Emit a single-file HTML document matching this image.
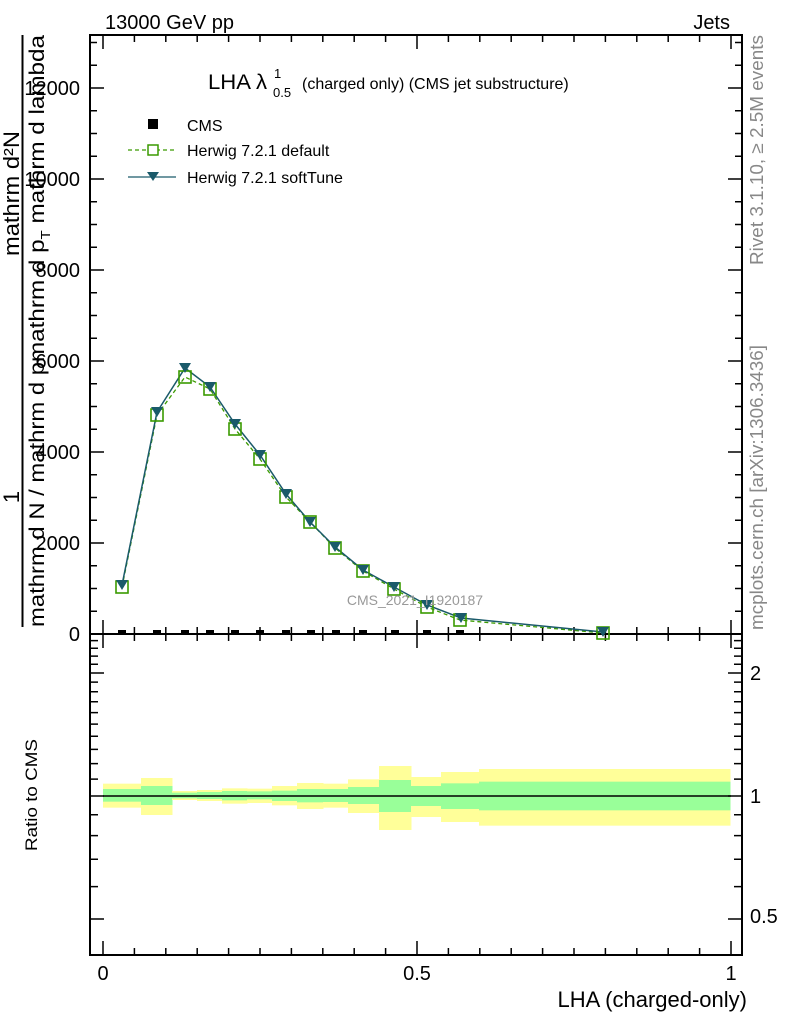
<!DOCTYPE html>
<html><head><meta charset="utf-8"><style>
html,body{margin:0;padding:0;background:#fff;}
svg{display:block;font-family:"Liberation Sans",sans-serif;}
</style></head><body>
<svg id="s" width="786" height="1024" viewBox="0 0 786 1024" xmlns="http://www.w3.org/2000/svg">
<g id="bands"></g>
<g id="ticks" stroke="#000" stroke-width="1.5"></g>
<g stroke="#000" stroke-width="1.5">
<path d="M90 919H104M742 919H728M90 796H104M742 796H728M90 673H104M742 673H728"/>
<path d="M90 886.6H98M90 859.3H98M90 835.6H98M90 814.7H98M90 779.1H98M90 763.6H98M90 749.4H98M90 736.3H98M90 724.1H98M90 712.6H98M90 701.8H98M90 691.7H98M90 682.1H98M90 664.3H98M90 656.1H98M90 648.2H98M90 640.6H98"/>
<path d="M742 886.6H734M742 859.3H734M742 835.6H734M742 814.7H734M742 779.1H734M742 763.6H734M742 749.4H734M742 736.3H734M742 724.1H734M742 712.6H734M742 701.8H734M742 691.7H734M742 682.1H734M742 664.3H734M742 656.1H734M742 648.2H734M742 640.6H734"/>
</g>
<rect x="90" y="35" width="652" height="599" fill="none" stroke="#000" stroke-width="2"/>
<rect x="90" y="634" width="652" height="321" fill="none" stroke="#000" stroke-width="2"/>
<line x1="103" y1="796" x2="731" y2="796" stroke="#000" stroke-width="1.5"/>
<g id="data"></g>
<text x="105" y="29" font-size="20">13000 GeV pp</text>
<text x="730" y="29" font-size="20" text-anchor="end">Jets</text>
<text x="208" y="89" font-size="21" textLength="59" lengthAdjust="spacingAndGlyphs">LHA λ</text>
<text x="274" y="78" font-size="13">1</text>
<text x="273" y="97" font-size="13">0.5</text>
<text x="302" y="89" font-size="16">(charged only) (CMS jet substructure)</text>
<rect x="148" y="119" width="10" height="10" fill="#000"/>
<text x="187" y="131" font-size="16">CMS</text>
<line x1="128" y1="150" x2="176" y2="150" stroke="#3a9a00" stroke-width="1.3" stroke-dasharray="4,3"/>
<rect x="148" y="145" width="10" height="10" fill="#fff" stroke="#3a9a00" stroke-width="1.5"/>
<text x="187" y="156" font-size="16">Herwig 7.2.1 default</text>
<line x1="128" y1="177" x2="176" y2="177" stroke="#1a5a6a" stroke-width="1.3"/>
<polygon points="147,172 159,172 153,181" fill="#1a5a6a"/>
<text x="187" y="183" font-size="16">Herwig 7.2.1 softTune</text>
<text x="415" y="605" font-size="14" fill="#999" text-anchor="middle">CMS_2021_I1920187</text>
<g font-size="20" text-anchor="end" id="ylab"></g>
<text x="103" y="980" font-size="20" text-anchor="middle">0</text>
<text x="417" y="980" font-size="20" text-anchor="middle">0.5</text>
<text x="731" y="980" font-size="20" text-anchor="middle">1</text>
<text x="747" y="1007" font-size="22" text-anchor="end">LHA (charged-only)</text>
<text x="750" y="680" font-size="20">2</text>
<text x="750" y="803" font-size="20">1</text>
<text x="750" y="923" font-size="20">0.5</text>
<text transform="translate(37,851) rotate(-90)" font-size="17" textLength="112" lengthAdjust="spacingAndGlyphs">Ratio to CMS</text>
<text transform="translate(763,265) rotate(-90)" font-size="18.5" fill="#888" textLength="230" lengthAdjust="spacingAndGlyphs">Rivet 3.1.10, ≥ 2.5M events</text>
<text transform="translate(763,630) rotate(-90)" font-size="18.5" fill="#888" textLength="285" lengthAdjust="spacingAndGlyphs">mcplots.cern.ch [arXiv:1306.3436]</text>
<text transform="translate(19,497) rotate(-90)" font-size="22" text-anchor="middle">1</text>
<text transform="translate(19,256) rotate(-90)" font-size="22" textLength="125" lengthAdjust="spacingAndGlyphs">mathrm d²N</text>
<line x1="22.5" y1="35" x2="22.5" y2="627" stroke="#000" stroke-width="2"/>
<text transform="translate(44,627) rotate(-90)" font-size="21" textLength="265" lengthAdjust="spacingAndGlyphs">mathrm d N / mathrm d p</text>
<text transform="translate(44,362) rotate(-90)" font-size="21" textLength="327" lengthAdjust="spacingAndGlyphs">mathrm d p<tspan font-size="13" dy="6">T</tspan><tspan dy="-6"> mathrm d lambda</tspan></text>
</svg>
<script>
const NS="http://www.w3.org/2000/svg";
function el(p,t,a){const e=document.createElementNS(NS,t);for(const k in a)e.setAttribute(k,a[k]);document.getElementById(p).appendChild(e);return e;}
const edges=[103,141,172,197,222,247,272,297,323,348,379,411,441,479,730];
const Y=[[491,563],[474,585],[513,540],[510,543],[505,551],[506,549],[498,556],[489,567],[491,563],[478,579],[438,630],[471,591],[456,606],[447,617]];
const G=[[507,545],[498,555],[518,535],[516,537],[513,541],[514,538],[512,543],[507,547],[507,546],[501,552],[480,576],[498,558],[490,567],[485,571]];
for(let i=0;i<14;i++){
 el("bands","rect",{x:edges[i],y:620+Y[i][0]/3,width:edges[i+1]-edges[i]+0.5,height:(Y[i][1]-Y[i][0])/3,fill:"#ffff99"});
 el("bands","rect",{x:edges[i],y:620+G[i][0]/3,width:edges[i+1]-edges[i]+0.5,height:(G[i][1]-G[i][0])/3,fill:"#99ff99"});
}
for(let i=0;i<=20;i++){const x=103+i*31.4;const maj=i%10==0;const L=maj?14:7;
 el("ticks","line",{x1:x,y1:634,x2:x,y2:634-L});el("ticks","line",{x1:x,y1:35,x2:x,y2:35+L});
 el("ticks","line",{x1:x,y1:955,x2:x,y2:955-L});el("ticks","line",{x1:x,y1:634,x2:x,y2:634+L});}
for(let v=0;v<=13000;v+=500){const y=634-v*0.0455;if(y<36)break;const maj=v%2000==0;const L=maj?14:7;
 el("ticks","line",{x1:90,y1:y,x2:90+L,y2:y});el("ticks","line",{x1:742,y1:y,x2:742-L,y2:y});
 if(maj){const t=el("ylab","text",{x:80,y:y+7});t.textContent=v;}}
const cmsx=[122,157,185,210,235,260,286,311,336,363,395,427,460];
cmsx.forEach(x=>el("data","rect",{x:x-4,y:630,width:8,height:5,fill:"#000"}));
const st=[[122,585],[157,412],[185,368],[210,387],[235,424],[260,455],[286,494],[310,522],[335,547],[363,570],[394,587],[427,605],[461,618],[603,632]];
const df=[[122,587],[157,415],[185,377],[210,389],[235,429],[260,459],[286,497],[310,522],[335,548],[363,571],[394,589],[427,607],[460,620],[603,633]];
el("data","polyline",{points:df.map(p=>p.join(",")).join(" "),fill:"none",stroke:"#3a9a00","stroke-width":1.3,"stroke-dasharray":"4,3"});
el("data","polyline",{points:st.map(p=>p.join(",")).join(" "),fill:"none",stroke:"#1a5a6a","stroke-width":1.5});
df.forEach(p=>el("data","rect",{x:p[0]-6,y:p[1]-6,width:12,height:12,fill:"none",stroke:"#3a9a00","stroke-width":1.6}));
st.forEach(p=>el("data","polygon",{points:`${p[0]-6},${p[1]-5} ${p[0]+6},${p[1]-5} ${p[0]},${p[1]+5}`,fill:"#1a5a6a"}));
</script>
</body></html>
